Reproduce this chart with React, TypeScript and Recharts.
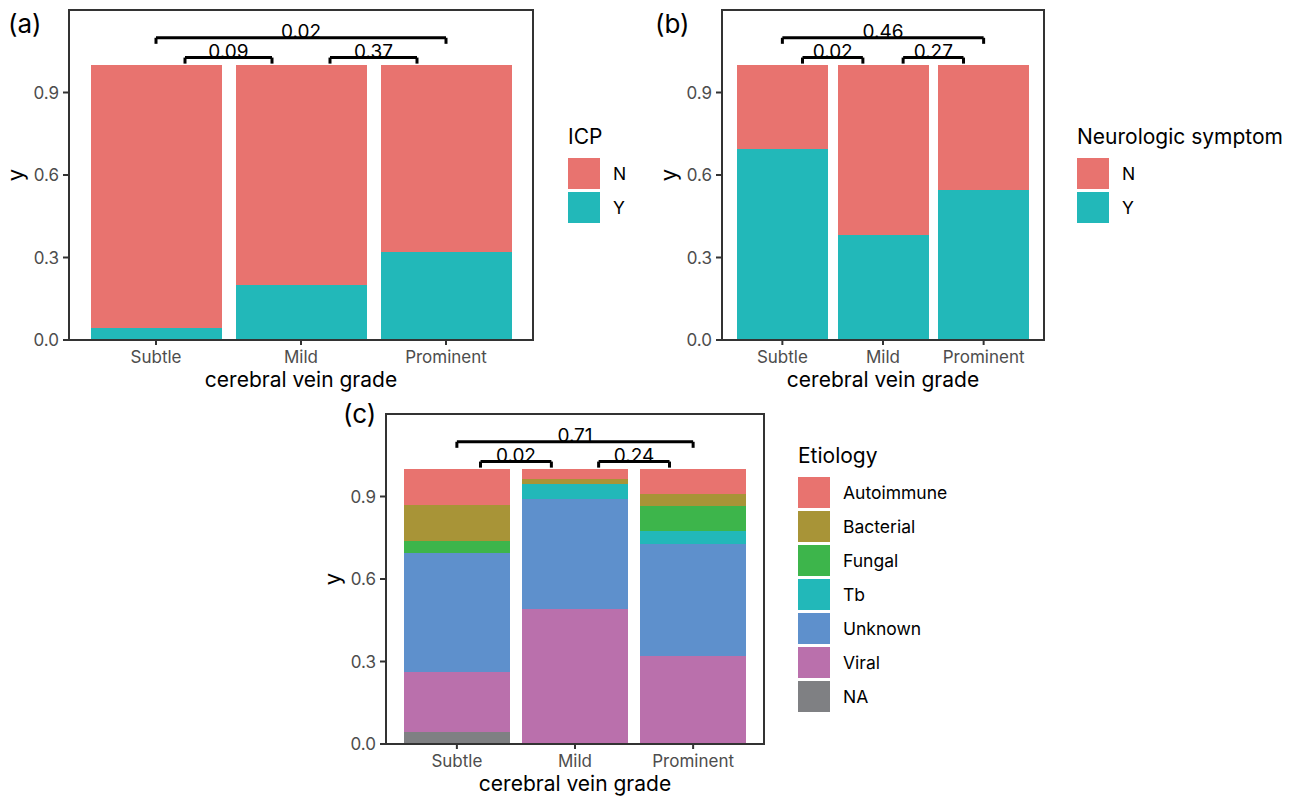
import React from 'react';
import { BarChart, Bar, XAxis, YAxis, ReferenceLine, ReferenceArea, Legend } from 'recharts';

// ---------- data ----------
const grades = ['Subtle', 'Mild', 'Prominent'];
const yTicks = [0, 0.3, 0.6, 0.9];

// (a) ICP
const icpN = [0.9565, 0.8, 0.6818];
const icpY = [0.0435, 0.2, 0.3182];

// (b) Neurologic symptom
const neuroN = [0.3043, 0.6182, 0.4545];
const neuroY = [0.6957, 0.3818, 0.5455];

// (c) Etiology
const etioNA = [0.0435, 0, 0];
const etioViral = [0.2174, 0.4909, 0.3182];
const etioUnknown = [0.4348, 0.4, 0.4091];
const etioTb = [0, 0.0545, 0.0455];
const etioFungal = [0.0435, 0, 0.0909];
const etioBacterial = [0.1304, 0.0182, 0.0455];
const etioAutoimmune = [0.1304, 0.0364, 0.0909];

// pairwise p-values
const compA = [
  { from: 'Subtle', to: 'Prominent', p: '0.02' },
  { from: 'Subtle', to: 'Mild', p: '0.09' },
  { from: 'Mild', to: 'Prominent', p: '0.37' },
];
const compB = [
  { from: 'Subtle', to: 'Prominent', p: '0.46' },
  { from: 'Subtle', to: 'Mild', p: '0.02' },
  { from: 'Mild', to: 'Prominent', p: '0.27' },
];
const compC = [
  { from: 'Subtle', to: 'Prominent', p: '0.71' },
  { from: 'Subtle', to: 'Mild', p: '0.02' },
  { from: 'Mild', to: 'Prominent', p: '0.24' },
];

// ---------- styling ----------
const FONT = "Inter, 'Noto Sans', 'DejaVu Sans', sans-serif";
const RED = '#E8736F';
const TEAL = '#22B8B9';

const seriesA = [
  { key: 'Y', name: 'Y', color: TEAL },
  { key: 'N', name: 'N', color: RED },
];
const seriesB = seriesA;
const seriesC = [
  { key: 'NA', name: 'NA', color: '#7F8083' },
  { key: 'Viral', name: 'Viral', color: '#BA70AC' },
  { key: 'Unknown', name: 'Unknown', color: '#5E90CC' },
  { key: 'Tb', name: 'Tb', color: '#22B8B9' },
  { key: 'Fungal', name: 'Fungal', color: '#3DB54B' },
  { key: 'Bacterial', name: 'Bacterial', color: '#A89437' },
  { key: 'Autoimmune', name: 'Autoimmune', color: '#E8736F' },
];

const dataA = grades.map((g, i) => ({ grade: g, pos: i + 1, Y: icpY[i], N: icpN[i] }));
const dataB = grades.map((g, i) => ({ grade: g, pos: i + 1, Y: neuroY[i], N: neuroN[i] }));
const dataC = grades.map((g, i) => ({
  grade: g,
  pos: i + 1,
  NA: etioNA[i],
  Viral: etioViral[i],
  Unknown: etioUnknown[i],
  Tb: etioTb[i],
  Fungal: etioFungal[i],
  Bacterial: etioBacterial[i],
  Autoimmune: etioAutoimmune[i],
}));

const AXIS_COLOR = '#333333';

const renderYLabel = (props: any) => {
  const vb = props.viewBox || { x: 0, y: 0, width: 0, height: 0 };
  const cx = vb.x + vb.width - 54;
  const cy = vb.y + vb.height / 2;
  return (
    <text
      x={cx}
      y={cy}
      transform={`rotate(-90 ${cx} ${cy})`}
      textAnchor="middle"
      dominantBaseline="central"
      fontSize={22}
      fill="#000"
    >
      y
    </text>
  );
};

const makeLegend = (title: string, series: { name: string }[]) => (props: any) => {
  const payload: any[] = props.payload || [];
  const order = series.map((s) => s.name).reverse();
  const items = order
    .map((n) => payload.find((p: any) => p.value === n))
    .filter(Boolean);
  return (
    <div style={{ fontFamily: FONT, color: '#000', textAlign: 'left' }}>
      <div style={{ fontSize: 21, lineHeight: '22px', height: 22, whiteSpace: 'nowrap' }}>{title}</div>
      <div style={{ marginTop: 8 }}>
        {items.map((it: any) => (
          <div key={it.value} style={{ display: 'flex', alignItems: 'center', height: 34 }}>
            <div style={{ width: 32, height: 31, background: it.color, marginRight: 13 }} />
            <span style={{ fontSize: 17.5, whiteSpace: 'nowrap' }}>{it.value}</span>
          </div>
        ))}
      </div>
    </div>
  );
};

const renderBrackets = (comps: { from: string; to: string; p: string }[]) =>
  comps.flatMap((c, k) => {
    const i = grades.indexOf(c.from) + 1;
    const j = grades.indexOf(c.to) + 1;
    const adjacent = j - i === 1;
    const y = adjacent ? 1.027 : 1.099;
    const x1 = adjacent ? i + 0.2 : i;
    const x2 = adjacent ? j - 0.2 : j;
    const tip = 0.022;
    const common = {
      xAxisId: 'num',
      stroke: '#000',
      strokeWidth: 3,
      ifOverflow: 'visible' as const,
    };
    return [
      <ReferenceLine
        key={`h${k}`}
        {...common}
        segment={[{ x: x1, y }, { x: x2, y }]}
        label={{ value: c.p, position: 'top', offset: 0, fill: '#000', fontSize: 19 }}
      />,
      <ReferenceLine key={`l${k}`} {...common} segment={[{ x: x1, y }, { x: x1, y: y - tip }]} />,
      <ReferenceLine key={`r${k}`} {...common} segment={[{ x: x2, y }, { x: x2, y: y - tip }]} />,
    ];
  });

type PanelProps = {
  left: number;
  top: number;
  width: number;
  height: number;
  margin: { top: number; right: number; bottom: number; left: number };
  yAxisWidth: number;
  data: any[];
  series: { key: string; name: string; color: string }[];
  legendTitle: string;
  legendLeft: number;
  legendTop: number;
  comps: { from: string; to: string; p: string }[];
};

const Panel = (p: PanelProps) => {
  const plotWidth = p.width - p.margin.left - p.margin.right - p.yAxisWidth;
  const pad = plotWidth / 32; // ggplot discrete expansion of 0.6 band
  return (
    <div style={{ position: 'absolute', left: p.left, top: p.top }}>
      <BarChart
        width={p.width}
        height={p.height}
        data={p.data}
        margin={p.margin}
        barCategoryGap="5%"
        barGap={0}
      >
        <XAxis
          dataKey="grade"
          type="category"
          interval={0}
          padding={{ left: pad, right: pad }}
          height={55}
          tickSize={5}
          tickMargin={6}
          tick={{ fill: '#4D4D4D', fontSize: 17 }}
          axisLine={{ stroke: AXIS_COLOR, strokeWidth: 2 }}
          tickLine={{ stroke: AXIS_COLOR, strokeWidth: 2 }}
          label={{ value: 'cerebral vein grade', position: 'insideBottom', offset: 8, fill: '#000', fontSize: 21 }}
        />
        <XAxis
          xAxisId="num"
          dataKey="pos"
          type="number"
          domain={[0.4, 3.6]}
          allowDataOverflow
          hide
        />
        <YAxis
          type="number"
          domain={[0, 1.2]}
          allowDataOverflow
          ticks={yTicks}
          interval={0}
          tickFormatter={(v: number) => v.toFixed(1)}
          width={p.yAxisWidth}
          tickSize={6}
          tickMargin={4}
          tick={{ fill: '#4D4D4D', fontSize: 17 }}
          axisLine={{ stroke: AXIS_COLOR, strokeWidth: 2 }}
          tickLine={{ stroke: AXIS_COLOR, strokeWidth: 2 }}
          label={renderYLabel}
        />
        {p.series.map((s) => (
          <Bar
            key={s.key}
            dataKey={s.key}
            name={s.name}
            stackId="s"
            fill={s.color}
            shapeRendering="crispEdges"
            isAnimationActive={false}
          />
        ))}
        <ReferenceArea
          xAxisId="num"
          x1={0.4}
          x2={3.6}
          y1={0}
          y2={1.2}
          fill="none"
          fillOpacity={0}
          stroke={AXIS_COLOR}
          strokeWidth={2}
          ifOverflow="visible"
        />
        {renderBrackets(p.comps)}
        <Legend
          layout="vertical"
          align="center"
          verticalAlign="middle"
          wrapperStyle={{ left: p.legendLeft, top: p.legendTop, width: 'auto', height: 'auto' }}
          content={makeLegend(p.legendTitle, p.series)}
        />
      </BarChart>
    </div>
  );
};

const panelLabel = (text: string, left: number, top: number) => (
  <div
    style={{
      position: 'absolute',
      left,
      top,
      fontSize: 26,
      lineHeight: '30px',
      fontFamily: FONT,
      color: '#000',
    }}
  >
    {text}
  </div>
);

export default function App() {
  return (
    <div
      style={{
        position: 'absolute',
        left: 0,
        top: 0,
        width: 1292,
        height: 797,
        background: '#fff',
        overflow: 'hidden',
        fontFamily: FONT,
      }}
    >
      <Panel
        left={0}
        top={0}
        width={700}
        height={400}
        margin={{ top: 10, right: 167, bottom: 5, left: 0 }}
        yAxisWidth={69}
        data={dataA}
        series={seriesA}
        legendTitle="ICP"
        legendLeft={568}
        legendTop={126}
        comps={compA}
      />
      <Panel
        left={640}
        top={0}
        width={652}
        height={400}
        margin={{ top: 10, right: 248, bottom: 5, left: 0 }}
        yAxisWidth={82}
        data={dataB}
        series={seriesB}
        legendTitle="Neurologic symptom"
        legendLeft={437}
        legendTop={126}
        comps={compB}
      />
      <Panel
        left={310}
        top={400}
        width={620}
        height={400}
        margin={{ top: 14, right: 166, bottom: 1, left: 0 }}
        yAxisWidth={76}
        data={dataC}
        series={seriesC}
        legendTitle="Etiology"
        legendLeft={488}
        legendTop={45}
        comps={compC}
      />
      {panelLabel('(a)', 8, 9)}
      {panelLabel('(b)', 655, 9)}
      {panelLabel('(c)', 343, 399)}
    </div>
  );
}
